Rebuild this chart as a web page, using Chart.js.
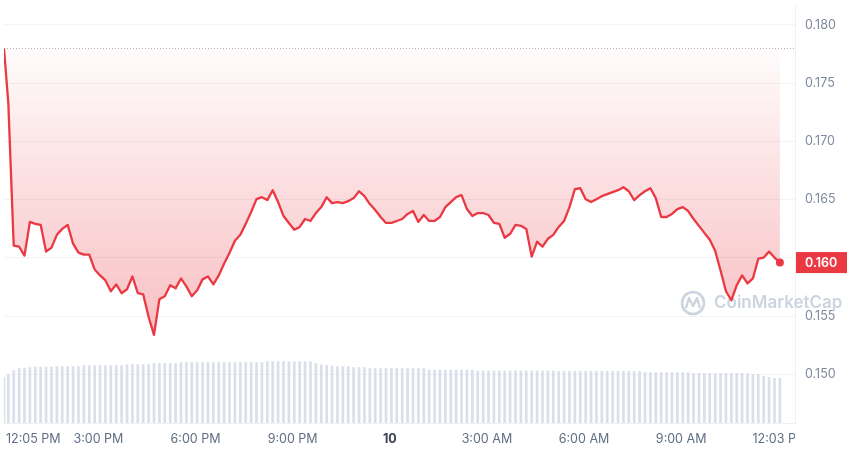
<!DOCTYPE html>
<html>
<head>
<meta charset="utf-8">
<script src="https://cdn.jsdelivr.net/npm/chart.js@4.4.0/dist/chart.umd.min.js"></script>
<style>
  html, body { margin: 0; padding: 0; background: #fff; }
  #wrap { position: relative; width: 850px; height: 453px; }
</style>
</head>
<body>
<div id="wrap"><canvas id="chart"></canvas></div>
<script>
// price every 10 min from 12:05 PM (first point) to 12:03 PM next day
const prices = [
  0.17796, 0.17329, 0.16105, 0.16096, 0.16020, 0.16309, 0.16292, 0.16283, 0.16054, 0.16088,
  0.16198, 0.16249, 0.16283, 0.16122, 0.16045, 0.16028, 0.16028, 0.15901, 0.15850, 0.15807,
  0.15714, 0.15773, 0.15697, 0.15731, 0.15841, 0.15697, 0.15688, 0.15493, 0.15340, 0.15646,
  0.15671, 0.15765, 0.15739, 0.15824, 0.15756, 0.15671, 0.15722, 0.15816, 0.15841, 0.15773,
  0.15850, 0.15952, 0.16045, 0.16147, 0.16198, 0.16292, 0.16394, 0.16504, 0.16521, 0.16496,
  0.16581, 0.16479, 0.16360, 0.16300, 0.16241, 0.16266, 0.16334, 0.16317, 0.16385, 0.16436,
  0.16521, 0.16470, 0.16479, 0.16470, 0.16487, 0.16513, 0.16572, 0.16530, 0.16462, 0.16411,
  0.16351, 0.16300, 0.16300, 0.16317, 0.16334, 0.16377, 0.16402, 0.16309, 0.16368, 0.16317,
  0.16317, 0.16351, 0.16436, 0.16479, 0.16521, 0.16538, 0.16419, 0.16360, 0.16385, 0.16385,
  0.16368, 0.16300, 0.16292, 0.16173, 0.16207, 0.16283, 0.16275, 0.16249, 0.16011, 0.16139,
  0.16096, 0.16164, 0.16198, 0.16266, 0.16317, 0.16436, 0.16589, 0.16598, 0.16504, 0.16479,
  0.16504, 0.16530, 0.16547, 0.16564, 0.16581, 0.16606, 0.16572, 0.16496, 0.16538, 0.16572,
  0.16598, 0.16513, 0.16351, 0.16351, 0.16377, 0.16419, 0.16436, 0.16402, 0.16334, 0.16275,
  0.16215, 0.16156, 0.16062, 0.15892, 0.15714, 0.15637, 0.15765, 0.15850, 0.15782, 0.15824,
  0.15994, 0.16003, 0.16054, 0.16003, 0.15960
];

// volume (M) for the same slots
const volumes = [
  0.761, 0.811, 0.877, 0.910, 0.918, 0.927, 0.935, 0.935, 0.935, 0.935,
  0.943, 0.943, 0.943, 0.943, 0.943, 0.960, 0.960, 0.960, 0.960, 0.960,
  0.960, 0.960, 0.960, 0.976, 0.976, 0.976, 0.976, 0.976, 0.993, 0.993,
  0.993, 0.993, 0.993, 1.010, 1.010, 1.010, 1.010, 1.010, 1.010, 1.010,
  1.010, 1.010, 1.010, 1.010, 1.010, 1.010, 1.010, 1.010, 1.010, 1.026,
  1.026, 1.026, 1.026, 1.026, 1.026, 1.026, 1.026, 1.026, 0.993, 0.968,
  0.960, 0.952, 0.943, 0.943, 0.943, 0.927, 0.927, 0.927, 0.910, 0.910,
  0.910, 0.910, 0.910, 0.910, 0.910, 0.910, 0.910, 0.910, 0.910, 0.885,
  0.885, 0.885, 0.885, 0.885, 0.885, 0.885, 0.885, 0.885, 0.869, 0.869,
  0.869, 0.869, 0.869, 0.869, 0.869, 0.869, 0.869, 0.869, 0.869, 0.869,
  0.869, 0.869, 0.869, 0.861, 0.861, 0.861, 0.861, 0.861, 0.861, 0.861,
  0.861, 0.861, 0.861, 0.861, 0.861, 0.861, 0.861, 0.861, 0.861, 0.844,
  0.844, 0.844, 0.844, 0.844, 0.844, 0.844, 0.844, 0.844, 0.828, 0.828,
  0.828, 0.828, 0.828, 0.828, 0.828, 0.828, 0.828, 0.828, 0.828, 0.811,
  0.811, 0.778, 0.761, 0.745, 0.745
];

// minutes after 12:05 PM
const sampleMinutes = prices.map((_, i) => (i === 0 ? 0 : 8 + (i - 1) * 10));

const tickMinutes = [0, 175, 355, 535, 715, 895, 1075, 1255, 1438];
const tickLabels = ['12:05 PM', '3:00 PM', '6:00 PM', '9:00 PM', '10', '3:00 AM', '6:00 AM', '9:00 AM', '12:03 PM'];
const yTicks = [0.150, 0.155, 0.160, 0.165, 0.170, 0.175, 0.180];

const RED = '#ea3943';
const FONT = 'Inter, "Noto Sans", sans-serif';
const openPrice = prices[0];
const lastPrice = prices[prices.length - 1];
const minPrice = Math.min(...prices);

const noPad = s => { s.paddingTop = 0; s.paddingBottom = 0; s.paddingLeft = 0; s.paddingRight = 0; };

const cmcPlugin = {
  id: 'cmc',
  beforeDatasetsDraw(chart) {
    const c = chart.ctx;
    // watermark
    c.save();
    c.strokeStyle = '#cdd3df';
    c.fillStyle = '#cdd3df';
    c.lineWidth = 2.6;
    c.beginPath();
    c.arc(693, 303, 11, 0, Math.PI * 2);
    c.stroke();
    c.lineWidth = 2.4;
    c.lineJoin = 'round';
    c.beginPath();
    c.moveTo(686, 308);
    c.lineTo(689, 298);
    c.lineTo(693, 306);
    c.lineTo(697, 298);
    c.lineTo(700, 308);
    c.stroke();
    c.font = '600 17px ' + FONT;
    c.textBaseline = 'middle';
    c.textAlign = 'left';
    c.fillText('CoinMarketCap', 714, 303);
    c.restore();
  },
  afterDraw(chart) {
    const c = chart.ctx;
    const area = chart.chartArea;
    const xs = chart.scales.x;
    const ys = chart.scales.y;
    // x labels
    c.save();
    c.beginPath();
    c.rect(0, area.bottom, area.right, chart.height - area.bottom);
    c.clip();
    c.textBaseline = 'middle';
    tickMinutes.forEach((m, i) => {
      const px = xs.getPixelForValue(m);
      const isDay = tickLabels[i] === '10';
      c.font = (isDay ? '700 ' : '400 ') + '12.5px ' + FONT;
      c.fillStyle = isDay ? '#3a4150' : '#616e85';
      c.textAlign = i === 0 ? 'left' : 'center';
      c.fillText(tickLabels[i], i === 0 ? px + 2 : px, area.bottom + 16);
    });
    c.restore();
    // last price tag
    const py = ys.getPixelForValue(lastPrice);
    c.save();
    c.fillStyle = RED;
    c.fillRect(area.right + 1, py - 10.5, 51, 21);
    c.fillStyle = '#fff';
    c.font = '600 12.5px ' + FONT;
    c.textBaseline = 'middle';
    c.textAlign = 'left';
    c.fillText(lastPrice.toFixed(3), area.right + 10, py + 0.5);
    c.restore();
  }
};

const ctx = document.getElementById('chart').getContext('2d');
new Chart(ctx, {
  data: {
    datasets: [
      {
        type: 'line',
        label: 'Price',
        data: sampleMinutes.map((m, i) => ({ x: m, y: prices[i] })),
        yAxisID: 'y',
        borderColor: RED,
        borderWidth: 2.3,
        borderJoinStyle: 'round',
        tension: 0,
        pointRadius: c => (c.dataIndex === prices.length - 1 ? 4 : 0),
        pointBackgroundColor: RED,
        pointBorderWidth: 0,
        fill: { value: openPrice },
        backgroundColor: c => {
          const { chart } = c;
          if (!chart.chartArea) return 'rgba(234,57,67,0.1)';
          const y0 = chart.scales.y.getPixelForValue(openPrice);
          const y1 = chart.scales.y.getPixelForValue(minPrice);
          const g = chart.ctx.createLinearGradient(0, y0, 0, y1);
          g.addColorStop(0, 'rgba(234,57,67,0.02)');
          g.addColorStop(1, 'rgba(234,57,67,0.32)');
          return g;
        },
        order: 1
      },
      {
        type: 'line',
        label: 'Open',
        data: [{ x: 0, y: openPrice }, { x: 1466, y: openPrice }],
        yAxisID: 'y',
        borderColor: '#a9b0bd',
        borderWidth: 1,
        borderDash: [1, 2],
        pointRadius: 0,
        fill: false,
        order: 2
      },
      {
        type: 'bar',
        label: 'Volume',
        data: sampleMinutes.map((m, i) => ({ x: m, y: volumes[i] })),
        yAxisID: 'yVol',
        backgroundColor: 'rgba(205,212,227,0.75)',
        barThickness: 2,
        order: 3
      }
    ]
  },
  options: {
    responsive: true,
    maintainAspectRatio: false,
    animation: false,
    layout: { padding: 0 },
    plugins: { legend: { display: false }, tooltip: { enabled: false } },
    scales: {
      x: {
        type: 'linear',
        offset: false,
        min: 0,
        max: 1466,
        grid: { display: false },
        border: { display: true, color: '#eff1f4' },
        ticks: { display: false },
        afterFit: s => { s.height = 30; noPad(s); }
      },
      y: {
        position: 'right',
        min: 0.14584,
        max: 0.18178,
        afterBuildTicks: s => { s.ticks = yTicks.map(v => ({ value: v })); },
        grid: { color: '#f1f3f6', drawTicks: false },
        border: { display: true, color: '#eff1f4' },
        ticks: {
          padding: 10,
          color: '#808a9d',
          font: { family: FONT, size: 12.5 },
          callback: v => v.toFixed(3)
        },
        afterFit: s => { s.width = 55; noPad(s); }
      },
      yVol: {
        display: false,
        min: 0,
        max: 7
      }
    }
  },
  plugins: [cmcPlugin]
});
</script>
</body>
</html>
